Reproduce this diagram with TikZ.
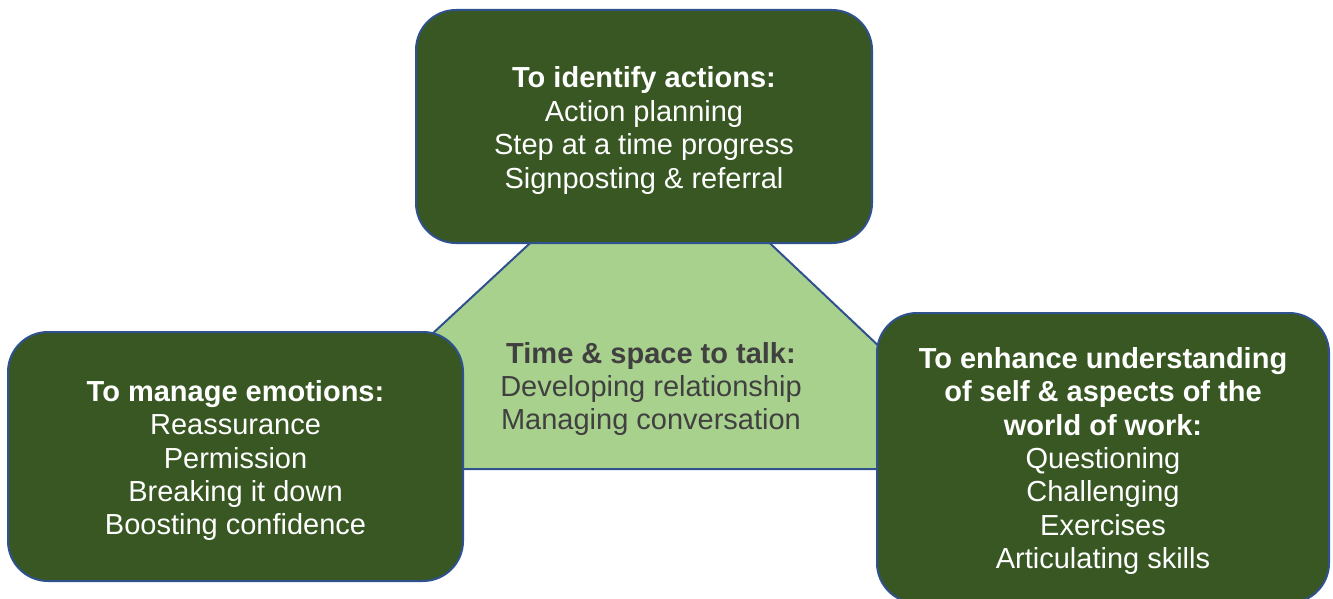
\documentclass[tikz,border=0pt]{standalone}
\usepackage{fontspec}
\setmainfont{Liberation Sans}
\definecolor{boxgreen}{RGB}{56,87,35}
\definecolor{edgeblue}{RGB}{47,82,143}
\definecolor{lightgreen}{RGB}{169,209,142}
\definecolor{talkgray}{RGB}{64,64,64}
\begin{document}
\begin{tikzpicture}[x=1pt,y=-1pt,
  themebox/.style={draw=edgeblue, line width=2pt, fill=boxgreen, rounded corners=40pt,
    inner sep=0pt},
  themetext/.style={text=white, align=center, inner sep=0pt,
    font=\fontsize{29}{33.4}\selectfont},
  talktext/.style={text=talkgray, align=center, inner sep=0pt,
    font=\fontsize{29}{33.4}\selectfont}]
\useasboundingbox (0,0) rectangle (1333,599);
\begin{scope}
\clip (0,0) rectangle (1333,599);
% central triangle behind the three boxes
\coordinate (apex) at (651,131);
\coordinate (baseL) at (286.5,469);
\coordinate (baseR) at (1009,469);
\draw[draw=edgeblue, line width=2pt, fill=lightgreen, line join=miter]
  (apex) -- (baseR) -- (baseL) -- cycle;
\node[talktext] (talk) at (651,389)
  {\textbf{Time \& space to talk:}\\Developing relationship\\Managing conversation};
% three theme boxes
\node[themebox, minimum width=456pt, minimum height=233pt] (actions) at (644,126.5) {};
\node[themebox, minimum width=455pt, minimum height=249pt] (emotions) at (235.5,456.5) {};
\node[themebox, minimum width=452pt, minimum height=290pt] (understanding) at (1103,458) {};
% their texts
\node[themetext] (actionstext) at ([yshift=-4pt]actions.center)
  {\textbf{To identify actions:}\\Action planning\\Step at a time progress\\Signposting \& referral};
\node[themetext] (emotionstext) at ([yshift=-4pt]emotions.center)
  {\textbf{To manage emotions:}\\Reassurance\\Permission\\Breaking it down\\Boosting confidence};
\node[themetext] (understandingtext) at ([yshift=-3pt]understanding.center)
  {\textbf{To enhance understanding}\\\textbf{of self \& aspects of the}\\\textbf{world of work:}\\Questioning\\Challenging\\Exercises\\Articulating skills};
\end{scope}
\end{tikzpicture}
\end{document}
